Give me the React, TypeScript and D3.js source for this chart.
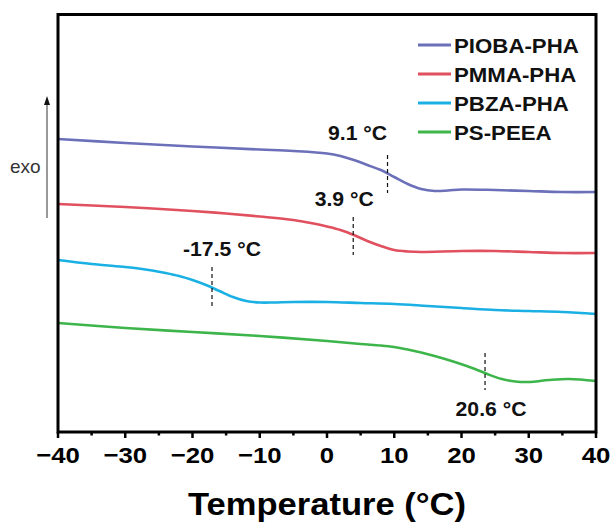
import React from 'react';
import * as d3 from 'd3';

// --- Data (temperature in °C, heat flow in arbitrary units, offset per curve) ---
const seriesNames = ['PIOBA-PHA', 'PMMA-PHA', 'PBZA-PHA', 'PS-PEEA'];
const seriesColors = ['#6b70b9', '#e0505e', '#1ab0e4', '#3db54b'];

const piobaT = [-40, -30, -20, -10, -5, 0, 2, 4, 6, 8, 10, 12, 14, 16, 18, 20, 25, 30, 35, 40];
const piobaV = [293, 289, 285.5, 282.5, 281, 278.5, 276, 272, 267, 262, 255, 248, 243, 241, 241.5, 242.5, 242, 241, 240, 240];

const pmmaT = [-40, -30, -20, -15, -10, -5, -2, 0, 2, 4, 6, 8, 10, 12, 14, 20, 25, 30, 35, 40];
const pmmaV = [228, 225, 221, 218.5, 215.5, 212, 208.5, 205.5, 202, 197, 191, 186, 182, 180.5, 180, 181, 181, 180, 179, 179];

const pbzaT = [-40, -35, -30, -28, -26, -24, -22, -20, -18, -16, -14, -12, -10, -8, -5, 0, 5, 10, 15, 20, 25, 30, 35, 40];
const pbzaV = [172, 168, 165, 163.5, 161.5, 159, 156, 152, 147, 141, 135, 131, 129.5, 129.5, 130, 130, 129, 128, 126, 124, 122, 121, 120, 118];

const pspeeaT = [-40, -30, -20, -10, 0, 5, 8, 10, 12, 14, 16, 19, 22, 24, 26, 28, 30, 33, 36, 40];
const pspeeaV = [109, 104, 100, 96, 91, 88, 86.5, 85, 82.5, 79.5, 76, 70, 63, 57.5, 53, 50.5, 50, 52, 53, 51];

// glass transitions: label text, dashed marker temperature, marker span (a.u.)
const tgLabels = ['9.1 °C', '3.9 °C', '-17.5 °C', '20.6 °C'];
const tgMarkT = [9.0, 3.9, -17.1, 23.5];
const tgMarkLow = [239, 177, 126, 42];
const tgMarkHigh = [277, 215, 165, 79];

const xTicks = [-40, -30, -20, -10, 0, 10, 20, 30, 40];
const xMinorTicks = [-35, -25, -15, -5, 5, 15, 25, 35];

const FONT = '"Liberation Sans", Arial, sans-serif';

const App = () => {
  const width = 614;
  const height = 526;
  const margin = { top: 14.5, right: 18, bottom: 94, left: 58 };

  const x = d3.scaleLinear().domain([-40, 40]).range([margin.left, width - margin.right]);
  const y = d3.scaleLinear().domain([0, 417.5]).range([height - margin.bottom, margin.top]);

  const line = d3.line<[number, number]>()
    .x(d => x(d[0]))
    .y(d => y(d[1]))
    .curve(d3.curveCatmullRom.alpha(0.5));

  const series = [
    d3.zip(piobaT, piobaV),
    d3.zip(pmmaT, pmmaV),
    d3.zip(pbzaT, pbzaV),
    d3.zip(pspeeaT, pspeeaV),
  ] as [number, number][][];

  const x0 = x(-40), x1 = x(40), yTop = y(417.5), yBot = y(0);

  // label placement relative to the dashed markers (px offsets)
  const labelDx = [-30, -9, 10, 6];
  const labelY = [y(tgMarkHigh[0]) - 15, y(tgMarkHigh[1]) - 11, y(tgMarkHigh[2]) - 11, y(tgMarkLow[3]) + 26];

  const sx = (cx: number, k: number) => `translate(${cx},0) scale(${k},1) translate(${-cx},0)`;

  return (
    <svg width={width} height={height} style={{ position: 'absolute', left: 0, top: 0, background: '#fff' }}>
      {/* curves */}
      {series.map((s, i) => (
        <path key={i} d={line(s) || ''} fill="none" stroke={seriesColors[i]} strokeWidth={2.6} />
      ))}

      {/* Tg markers */}
      {tgMarkT.map((t, i) => (
        <g key={i}>
          <line x1={x(t)} x2={x(t)} y1={y(tgMarkHigh[i])} y2={y(tgMarkLow[i])}
            stroke="#111" strokeWidth={1.2} strokeDasharray="4,3" />
          <text x={x(t) + labelDx[i]} y={labelY[i]} textAnchor="middle" fontFamily={FONT}
            fontWeight="bold" fontSize={20} fill="#111" transform={sx(x(t) + labelDx[i], 1.06)}>
            {tgLabels[i]}
          </text>
        </g>
      ))}

      {/* frame */}
      <rect x={x0} y={yTop} width={x1 - x0} height={yBot - yTop} fill="none" stroke="#000" strokeWidth={3} />

      {/* x ticks */}
      {xTicks.map(t => (
        <g key={t}>
          <line x1={x(t)} x2={x(t)} y1={yBot} y2={yBot + 6} stroke="#000" strokeWidth={2.5} />
          <text x={x(t)} y={yBot + 31} textAnchor="middle" fontFamily={FONT} fontWeight="bold"
            fontSize={23} fill="#000" transform={sx(x(t), 1.12)}>
            {t < 0 ? '\u2212' + Math.abs(t) : String(t)}
          </text>
        </g>
      ))}
      {xMinorTicks.map(t => (
        <line key={t} x1={x(t)} x2={x(t)} y1={yBot} y2={yBot + 3.5} stroke="#000" strokeWidth={2.5} />
      ))}

      {/* x axis title */}
      <text x={(x0 + x1) / 2} y={515} textAnchor="middle" fontFamily={FONT} fontWeight="bold" fontSize={32}
        fill="#000" transform={sx((x0 + x1) / 2, 1.08)}>
        Temperature (°C)
      </text>

      {/* exo arrow */}
      <line x1={47} x2={47} y1={218} y2={103} stroke="#555" strokeWidth={1.2} />
      <path d="M47,96 L44,105 L50,105 Z" fill="#111" />
      <text x={10} y={173} fontFamily={FONT} fontSize={19} fill="#333">exo</text>

      {/* legend */}
      {seriesNames.map((name, i) => {
        const ly = 45 + i * 29;
        return (
          <g key={name}>
            <line x1={418} x2={451} y1={ly} y2={ly} stroke={seriesColors[i]} strokeWidth={3} />
            <text x={454} y={ly + 8} fontFamily={FONT} fontWeight="bold" fontSize={21} fill="#111"
              transform={sx(454, 1.06)}>
              {name}
            </text>
          </g>
        );
      })}
    </svg>
  );
};

export default App;
